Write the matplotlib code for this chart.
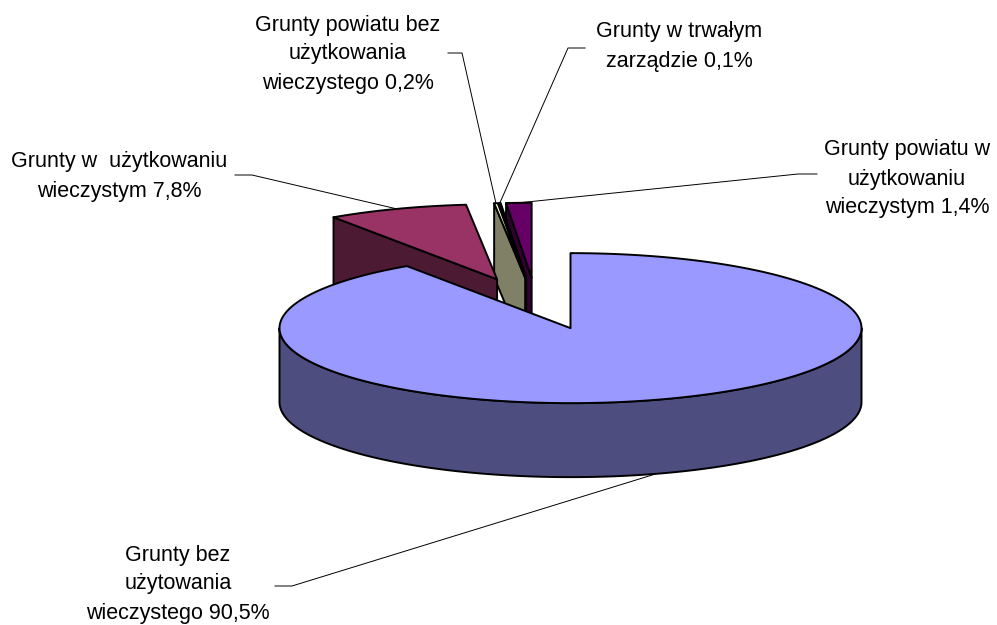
import numpy as np
import matplotlib
matplotlib.use("Agg")
import matplotlib.pyplot as plt
from matplotlib.patches import Polygon

# ---- data ----
categories = [
    ["Grunty bez", "użytowania", "wieczystego"],
    ["Grunty w  użytkowaniu", "wieczystym"],
    ["Grunty powiatu bez", "użytkowania", "wieczystego"],
    ["Grunty w trwałym", "zarządzie"],
    ["Grunty powiatu w", "użytkowaniu", "wieczystym"],
]
values = [90.5, 7.8, 0.2, 0.1, 1.4]
pct_labels = ["90,5%", "7,8%", "0,2%", "0,1%", "1,4%"]
colors = ["#9999FF", "#993366", "#FFFFCC", "#CCFFFF", "#660066"]

# ---- layout / style ----
W, H = 997, 625
CX, CY = 536.7, 303.5      # pie centre (pixels)
RX, RY = 291.0, 75.0       # top ellipse radii
DEPTH = 74.0               # pie thickness
EXPLODE = 0.395            # explosion (fraction of radius)
EXP_Y = 0.87               # vertical factor of explosion (perspective)
EDGE_LW = 1.4
FONT = "Liberation Sans"
FS = 15.5
LINE_STEP = 29.0

# label placement: (centre x, first line centre y, elbow point, end point)
label_layout = [
    (178, 555, (292, 586), (275, 586)),
    (119, 162, (252, 175), (235, 175)),
    (348, 25, (462, 53), (448, 53)),
    (679, 32, (568, 48), (585, 48)),
    (907, 150, (798, 174), (817, 174)),
]

def shade(c, f=0.5):
    r, g, b = matplotlib.colors.to_rgb(c)
    return (r * f, g * f, b * f)

fig = plt.figure(figsize=(W / 100, H / 100), dpi=100)
ax = fig.add_axes([0, 0, 1, 1])
ax.set_xlim(0, W)
ax.set_ylim(H, 0)
ax.axis("off")

total = float(sum(values))
slices = []
cum = 0.0
for i, v in enumerate(values):
    hi = 90.0 - cum / total * 360.0
    lo = hi - v / total * 360.0
    cum += v
    mid = np.radians((hi + lo) / 2)
    ox = CX + EXPLODE * RX * np.cos(mid)
    oy = CY - EXPLODE * RY * EXP_Y * np.sin(mid)
    slices.append(dict(i=i, lo=lo, hi=hi, mid=mid, ox=ox, oy=oy))

def pt(s, ang_deg, r=1.0, z=0.0):
    a = np.radians(ang_deg)
    return (s["ox"] + RX * r * np.cos(a), s["oy"] - RY * r * np.sin(a) + z * DEPTH)

def arc(s, a0, a1, z=0.0):
    n = max(2, int(abs(a1 - a0) * 2) + 2)
    return [pt(s, a, 1.0, z) for a in np.linspace(a0, a1, n)]

def add_poly(points, fc, zorder):
    ax.add_patch(Polygon(points, closed=True, facecolor=fc, edgecolor="black",
                         linewidth=EDGE_LW, joinstyle="round", zorder=zorder))

# draw farthest first
order = sorted(slices, key=lambda s: -np.sin(s["mid"]))
z = 1
for s in order:
    col = colors[s["i"]]
    side = shade(col)
    apex_t = (s["ox"], s["oy"])
    apex_b = (s["ox"], s["oy"] + DEPTH)
    # radial faces
    if np.cos(np.radians(s["lo"])) > 1e-9:
        add_poly([apex_t, pt(s, s["lo"]), pt(s, s["lo"], z=1), apex_b], side, z); z += 1
    if np.cos(np.radians(s["hi"])) < -1e-9:
        add_poly([apex_t, pt(s, s["hi"]), pt(s, s["hi"], z=1), apex_b], side, z); z += 1
    # outer wall, front half only
    for k in range(-3, 3):
        f0, f1 = 180 + 360 * k, 360 + 360 * k
        a0, a1 = max(f0, s["lo"]), min(f1, s["hi"])
        if a1 > a0:
            add_poly(arc(s, a0, a1) + arc(s, a1, a0, 1.0), side, z); z += 1
    # top face
    add_poly([apex_t] + arc(s, s["lo"], s["hi"]), col, z); z += 1

# labels and leader lines
for s in slices:
    i = s["i"]
    cx_t, y0, elbow, end = label_layout[i]
    lines = categories[i][:-1] + [categories[i][-1] + " " + pct_labels[i]]
    for j, ln in enumerate(lines):
        ax.text(cx_t, y0 + j * LINE_STEP, ln, ha="center", va="center",
                fontsize=FS, family=FONT, color="black", zorder=50)
    mid_deg = np.degrees(s["mid"])
    if np.sin(s["mid"]) < 0:
        anchor = pt(s, mid_deg, 1.0, 1.0)
    else:
        anchor = pt(s, mid_deg, 1.0, 0.0)
    ax.plot([anchor[0], elbow[0], end[0]], [anchor[1], elbow[1], end[1]],
            color="black", linewidth=0.7, zorder=49, solid_joinstyle="miter")

fig.savefig("out.png", dpi=100)
